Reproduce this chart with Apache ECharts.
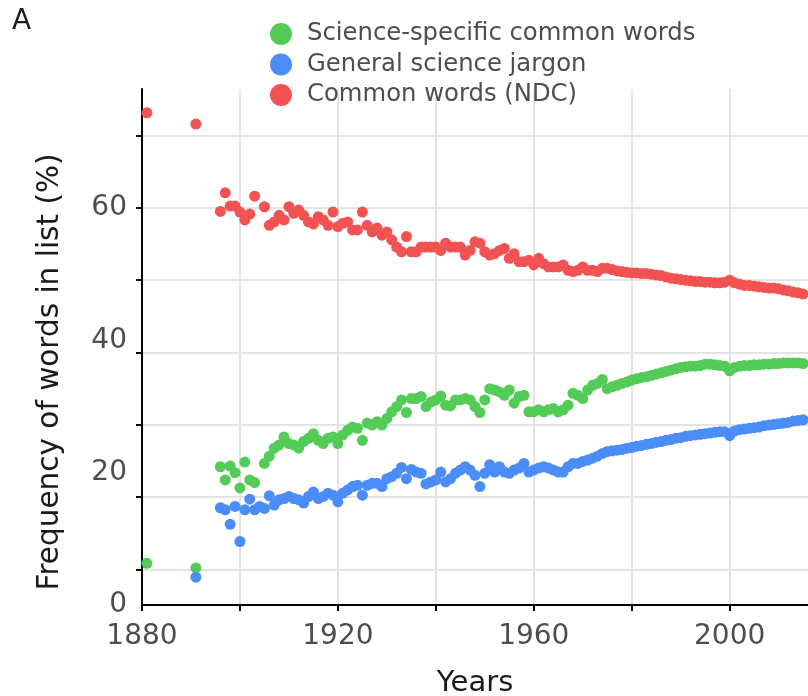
<!DOCTYPE html>
<html>
<head>
<meta charset="utf-8">
<script src="https://cdn.jsdelivr.net/npm/echarts@6/dist/echarts.min.js"></script>
<style>
    html, body { margin: 0; padding: 0; background: #fff; }
    #main { width: 808px; height: 696px; }
</style>
</head>
<body>
<div id="main"></div>
<script>
// early sparse years
var earlyYears = [1881, 1891];
var earlyRed = [74.4, 72.7];
var earlyGreen = [6.3, 5.6];
var earlyBlue = [null, 4.2];

// yearly data from 1896 onwards
var years = [
    1896, 1897, 1898, 1899, 1900, 1901, 1902, 1903, 1904, 1905,
    1906, 1907, 1908, 1909, 1910, 1911, 1912, 1913, 1914, 1915,
    1916, 1917, 1918, 1919, 1920, 1921, 1922, 1923, 1924, 1925,
    1926, 1927, 1928, 1929, 1930, 1931, 1932, 1933, 1934, 1935,
    1936, 1937, 1938, 1939, 1940, 1941, 1942, 1943, 1944, 1945,
    1946, 1947, 1948, 1949, 1950, 1951, 1952, 1953, 1954, 1955,
    1956, 1957, 1958, 1959, 1960, 1961, 1962, 1963, 1964, 1965,
    1966, 1967, 1968, 1969, 1970, 1971, 1972, 1973, 1974, 1975,
    1976, 1977, 1978, 1979, 1980, 1981, 1982, 1983, 1984, 1985,
    1986, 1987, 1988, 1989, 1990, 1991, 1992, 1993, 1994, 1995,
    1996, 1997, 1998, 1999, 2000, 2001, 2002, 2003, 2004, 2005,
    2006, 2007, 2008, 2009, 2010, 2011, 2012, 2013, 2014, 2015
];
// Common words (NDC)
var redValues = [
    59.5, 62.3, 60.3, 60.3, 59.4, 58.2, 59.1, 61.8, null, 60.2,
    57.4, 57.9, 58.9, 58.2, 60.2, 59.2, 59.7, 58.9, 57.9, 57.6,
    58.7, 58.2, 57.4, 59.4, 57.2, 57.7, 57.9, 56.7, 56.7, 59.4,
    57.4, 56.4, 57.0, 55.9, 56.4, 55.2, 54.1, 53.4, 55.7, 53.4,
    53.4, 54.1, 54.1, 54.1, 54.1, 53.6, 54.7, 54.1, 54.1, 54.1,
    52.9, 53.6, 54.9, 54.7, 53.4, 52.9, 53.1, 53.6, 53.9, 52.4,
    53.1, 51.9, 51.9, 52.1, 51.4, 52.4, 51.6, 51.1, 51.1, 51.1,
    51.4, 50.6, 50.4, 50.6, 51.1, 50.6, 50.6, 50.4, 50.9, 50.9,
    50.7, 50.5, 50.4, 50.3, 50.2, 50.2, 50.1, 50.1, 50.0, 49.9,
    49.8, 49.6, 49.4, 49.3, 49.2, 49.1, 49.0, 48.9, 48.9, 48.8,
    48.8, 48.7, 48.7, 48.8, 49.1, 48.7, 48.5, 48.3, 48.3, 48.2,
    48.1, 48.0, 47.9, 47.9, 47.8, 47.6, 47.5, 47.3, 47.2, 47.0
];
// Science-specific common words
var greenValues = [
    20.9, 18.9, 21.0, 20.0, 17.7, 21.6, 18.9, 18.5, null, 21.4,
    22.5, 23.7, 24.2, 25.4, 24.4, 24.2, 23.7, 24.7, 25.2, 25.9,
    24.9, 24.4, 25.2, 25.4, 24.4, 25.7, 26.4, 26.9, 26.7, 24.9,
    27.5, 27.2, 27.7, 27.2, 28.2, 29.2, 30.0, 31.0, 29.1, 31.2,
    31.2, 31.5, 30.0, 30.7, 31.0, 31.6, 30.2, 30.1, 31.0, 31.0,
    31.2, 31.0, 30.0, 29.1, 31.0, 32.7, 32.5, 32.2, 31.7, 32.5,
    30.5, 31.5, 31.7, 29.2, 29.2, 29.5, 29.2, 29.5, 29.7, 29.2,
    29.5, 30.2, 32.0, 31.7, 31.2, 32.5, 33.2, 33.5, 34.1, 32.7,
    33.0, 33.2, 33.5, 33.7, 34.0, 34.2, 34.4, 34.5, 34.7, 34.9,
    35.1, 35.3, 35.5, 35.7, 35.9, 36.0, 36.1, 36.1, 36.2, 36.4,
    36.4, 36.3, 36.2, 36.1, 35.4, 35.9, 36.1, 36.2, 36.2, 36.3,
    36.3, 36.4, 36.4, 36.5, 36.5, 36.6, 36.6, 36.6, 36.6, 36.5
];
// General science jargon
var blueValues = [
    14.7, 14.4, 12.2, 14.9, 9.6, 14.4, 16.0, 14.4, 14.9, 14.6,
    16.5, 15.1, 15.9, 16.1, 16.4, 16.1, 15.9, 15.4, 16.4, 17.1,
    16.1, 16.4, 16.9, 16.6, 15.6, 16.9, 17.4, 17.9, 18.1, 16.6,
    18.1, 18.4, 18.4, 17.9, 19.1, 19.4, 19.9, 20.8, 19.1, 20.5,
    20.1, 19.9, 18.3, 18.6, 18.9, 20.1, 18.6, 19.1, 19.9, 20.4,
    20.9, 20.4, 19.6, 17.9, 19.9, 21.2, 20.1, 20.9, 20.1, 19.9,
    20.4, 20.7, 21.4, 20.1, 20.4, 20.7, 20.9, 20.7, 20.4, 20.1,
    20.1, 20.9, 21.4, 21.4, 21.7, 21.9, 22.2, 22.5, 22.9, 23.2,
    23.3, 23.4, 23.5, 23.7, 23.8, 24.0, 24.1, 24.3, 24.4, 24.6,
    24.7, 24.9, 25.0, 25.2, 25.3, 25.5, 25.6, 25.7, 25.8, 25.9,
    26.0, 26.1, 26.2, 26.2, 25.6, 26.3, 26.5, 26.6, 26.7, 26.8,
    26.9, 27.1, 27.2, 27.3, 27.4, 27.5, 27.6, 27.8, 27.9, 28.0
];

var xLabels = [1880, 1920, 1960, 2000];
var yLabels = [0, 20, 40, 60];
// where the grid lines and y ticks sit (they don't line up with the labels)
var yGridTicks = [5.35, 16.3, 27.25, 38.2, 49.1, 60.05, 71.0];

var FONT = 'DejaVu Sans';

// pair up years and values, skip empty years
function toPoints(xs, ys) {
    var out = [];
    for (var i = 0; i < xs.length; i++) {
        if (ys[i] != null) out.push([xs[i], ys[i]]);
    }
    return out;
}

var redData = toPoints(earlyYears, earlyRed).concat(toPoints(years, redValues));
var greenData = toPoints(earlyYears, earlyGreen).concat(toPoints(years, greenValues));
var blueData = toPoints(earlyYears, earlyBlue).concat(toPoints(years, blueValues));

var myChart = echarts.init(document.getElementById('main'), null, {renderer: 'canvas'});

var option = {
    backgroundColor: '#fff',
    animation: false,
    // keep the plot box fixed, don't let it shrink to fit the axis name
    grid: {left: 142, right: 0, top: 89, bottom: 91, containLabel: false, outerBoundsMode: 'none'},
    legend: {
        orient: 'vertical',
        left: 265,
        top: 17,
        itemWidth: 42,
        itemHeight: 22,
        itemGap: 6.5,
        icon: 'circle',
        textStyle: {fontFamily: FONT, fontSize: 24.3, color: '#4d4d4d'},
        data: ['Science-specific common words', 'General science jargon', 'Common words (NDC)']
    },
    xAxis: {
        type: 'value',
        min: 1880,
        max: 2016,
        interval: 20,
        name: 'Years',
        nameLocation: 'middle',
        nameGap: 64,
        nameTextStyle: {fontFamily: FONT, fontSize: 29, color: '#1a1a1a'},
        axisLine: {show: true, onZero: false, lineStyle: {color: '#000', width: 2}},
        axisTick: {show: true, length: 6, lineStyle: {color: '#000', width: 2}},
        axisLabel: {
            fontFamily: FONT, fontSize: 28, color: '#4d4d4d', margin: 18,
            showMaxLabel: false,
            formatter: function (v) {
                return xLabels.indexOf(v) >= 0 ? String(v) : '';
            }
        },
        splitLine: {show: true, showMaxLine: false, lineStyle: {color: '#e3e3e3', width: 2}}
    },
    yAxis: {
        type: 'value',
        min: 0,
        max: 78,
        axisLine: {show: true, lineStyle: {color: '#000', width: 2}},
        axisTick: {show: true, length: 6, customValues: yGridTicks, lineStyle: {color: '#000', width: 2}},
        axisLabel: {
            fontFamily: FONT, fontSize: 28, color: '#4d4d4d', margin: 15,
            customValues: yLabels
        },
        splitLine: {show: true, lineStyle: {color: '#e3e3e3', width: 2}}
    },
    graphic: [
        {
            type: 'text', left: 12, top: 8,
            style: {text: 'A', font: '28px "DejaVu Sans"', fill: '#1a1a1a'}
        },
        {
            type: 'text', x: 50, y: 372, rotation: Math.PI / 2,
            style: {
                text: 'Frequency of words in list (%)', font: '29.5px "DejaVu Sans"',
                fill: '#1a1a1a', align: 'center', verticalAlign: 'middle'
            }
        }
    ],
    series: [
        {
            name: 'Common words (NDC)', type: 'scatter', symbol: 'circle', symbolSize: 11,
            itemStyle: {color: '#f25252', opacity: 1}, data: redData
        },
        {
            name: 'Science-specific common words', type: 'scatter', symbol: 'circle', symbolSize: 11,
            itemStyle: {color: '#52cc57', opacity: 1}, data: greenData
        },
        {
            name: 'General science jargon', type: 'scatter', symbol: 'circle', symbolSize: 11,
            itemStyle: {color: '#4b8df8', opacity: 1}, data: blueData
        }
    ]
};

myChart.setOption(option);
</script>
</body>
</html>
